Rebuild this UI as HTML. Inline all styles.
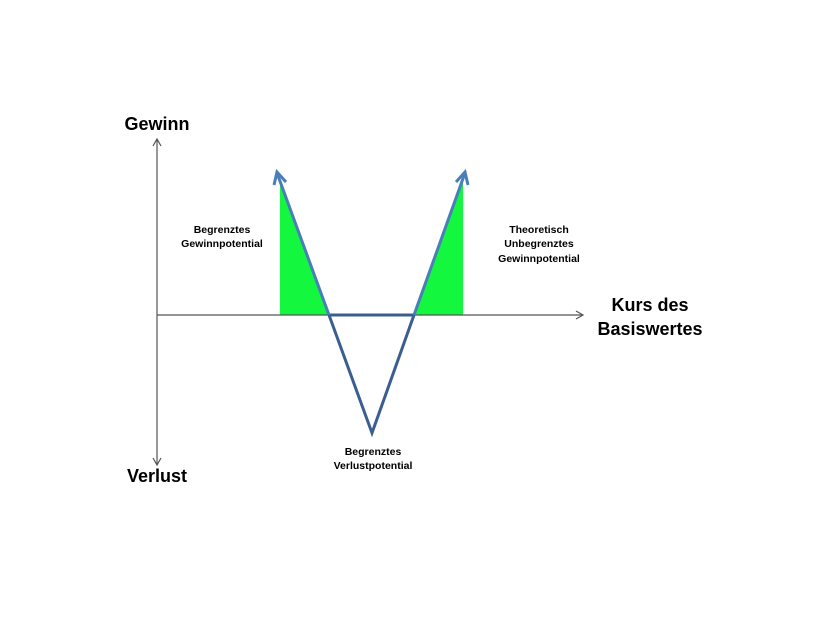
<html><body style="margin:0;background:#fff">
<svg width="840" height="630" xmlns="http://www.w3.org/2000/svg" style="font-family:'Liberation Sans',sans-serif;font-weight:bold">
<polygon points="280,180 280,315 329,315" fill="#14f73f"/>
<polygon points="463,180 463,315 414,315" fill="#14f73f"/>
<line x1="157" y1="140" x2="157" y2="465" stroke="#555" stroke-width="1.2"/>
<polyline points="153,146 157,139 161,146" fill="none" stroke="#555" stroke-width="1.2"/>
<polyline points="153,458 157,465 161,458" fill="none" stroke="#555" stroke-width="1.2"/>
<line x1="157" y1="315" x2="583" y2="315" stroke="#555" stroke-width="1.2"/>
<polyline points="576,311 583,315 576,319" fill="none" stroke="#555" stroke-width="1.2"/>
<polyline points="329,315 372,433 414,315" fill="none" stroke="#3a5f8f" stroke-width="3"/>
<line x1="329" y1="315" x2="414" y2="315" stroke="#3a5f8f" stroke-width="3"/>
<line x1="277" y1="173" x2="329" y2="315" stroke="#4a7ebb" stroke-width="3"/>
<line x1="465" y1="173" x2="414" y2="315" stroke="#4a7ebb" stroke-width="3"/>
<polyline points="274,185 277,172 286,182" fill="none" stroke="#4a7ebb" stroke-width="3"/>
<polyline points="456,182 465,172 468,185" fill="none" stroke="#4a7ebb" stroke-width="3"/>
<text x="157" y="130" font-size="18" text-anchor="middle">Gewinn</text>
<text x="157" y="482" font-size="18" text-anchor="middle">Verlust</text>
<text x="650" y="311" font-size="18" text-anchor="middle">Kurs des</text>
<text x="650" y="335" font-size="18" text-anchor="middle">Basiswertes</text>
<g font-size="10.5" text-anchor="middle">
<text x="222" y="233">Begrenztes</text>
<text x="222" y="247">Gewinnpotential</text>
<text x="539" y="233">Theoretisch</text>
<text x="539" y="247">Unbegrenztes</text>
<text x="539" y="262">Gewinnpotential</text>
<text x="373" y="455">Begrenztes</text>
<text x="373" y="469">Verlustpotential</text>
</g>
</svg>
</body></html>
